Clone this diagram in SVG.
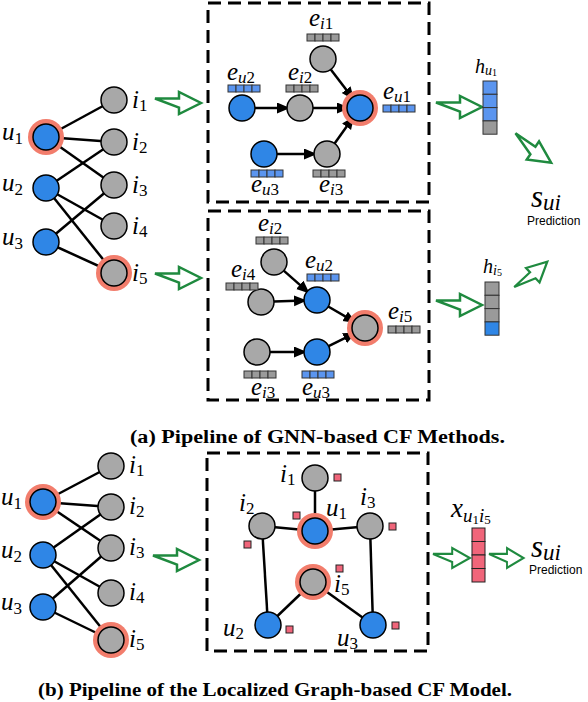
<svg xmlns="http://www.w3.org/2000/svg" width="588" height="702" viewBox="0 0 588 702">
<style>
.bg{fill:#fff}
.e{stroke:#000;stroke-width:2.5;fill:none}
.ea{stroke:#000;stroke-width:2.5;fill:none;marker-end:url(#ah)}
.halo{fill:#f27d6c}
.u{fill:#2f86e6;stroke:#000;stroke-width:1.5}
.i{fill:#a8a8a8;stroke:#000;stroke-width:1.5}
.cb{fill:#5b95ef;stroke:#333;stroke-width:1}
.cg{fill:#9a9a9a;stroke:#333;stroke-width:1}
.cp{fill:#f0657a;stroke:#222;stroke-width:1}
.box{fill:none;stroke:#000;stroke-width:3;stroke-dasharray:13 7}
.ga{fill:#fff;stroke:#1f8a3f;stroke-width:2.5;stroke-linejoin:miter}
.m{font-family:"Liberation Serif",serif;font-style:italic;font-size:25px;fill:#000}
.sb{font-size:17px}
.d{font-style:normal}
.p{font-family:"Liberation Sans",Arial,sans-serif;font-size:12px;fill:#000}
.cap{font-family:"Liberation Serif",serif;font-weight:bold;font-size:18px;fill:#000}
</style>
<defs>
<marker id="ah" markerUnits="userSpaceOnUse" markerWidth="14" markerHeight="12" refX="10" refY="5.5" orient="auto">
<path d="M0,0 L13,5.5 L0,11 Z" fill="#000"/>
</marker>
<path id="garrow" d="M0,-4.5 H24 V-11 L46,0 L24,11 V4.5 Z"/>
</defs>
<rect class="bg" x="0" y="0" width="588" height="702"/>

<g id="connectors">
<line class="e" x1="46" y1="137" x2="114" y2="100"/>
<line class="e" x1="46" y1="137" x2="114" y2="142"/>
<line class="e" x1="46" y1="137" x2="114" y2="185"/>
<line class="e" x1="46" y1="188" x2="114" y2="142"/>
<line class="e" x1="46" y1="188" x2="114" y2="226"/>
<line class="e" x1="46" y1="188" x2="114" y2="273"/>
<line class="e" x1="46" y1="242" x2="114" y2="185"/>
<line class="e" x1="46" y1="242" x2="114" y2="273"/>
<line class="ea" x1="255" y1="108" x2="287" y2="108"/>
<line class="ea" x1="313" y1="108" x2="347" y2="108"/>
<line class="ea" x1="330.8" y1="69.4" x2="352.2" y2="97.6"/>
<line class="ea" x1="277" y1="154" x2="314" y2="154"/>
<line class="ea" x1="334.6" y1="143.4" x2="352.4" y2="118.6"/>
<line class="ea" x1="283.7" y1="270.6" x2="307.3" y2="291.4"/>
<line class="ea" x1="274" y1="301.5" x2="304" y2="300.5"/>
<line class="ea" x1="328.2" y1="306.5" x2="353.8" y2="321.4"/>
<line class="ea" x1="270" y1="352" x2="304" y2="352"/>
<line class="ea" x1="328.6" y1="346.2" x2="353.4" y2="333.8"/>
<line class="e" x1="43" y1="502" x2="111" y2="466"/>
<line class="e" x1="43" y1="502" x2="111" y2="507"/>
<line class="e" x1="43" y1="502" x2="111" y2="548"/>
<line class="e" x1="43" y1="555" x2="111" y2="507"/>
<line class="e" x1="43" y1="555" x2="111" y2="593"/>
<line class="e" x1="43" y1="555" x2="111" y2="640"/>
<line class="e" x1="43" y1="607" x2="111" y2="548"/>
<line class="e" x1="43" y1="607" x2="111" y2="640"/>
<line class="e" x1="315" y1="478" x2="315" y2="531"/>
<line class="e" x1="262" y1="526" x2="315" y2="531"/>
<line class="e" x1="315" y1="531" x2="370" y2="526"/>
<line class="e" x1="262" y1="526" x2="268" y2="625"/>
<line class="e" x1="370" y1="526" x2="373" y2="625"/>
<line class="e" x1="313" y1="582" x2="268" y2="625"/>
<line class="e" x1="313" y1="582" x2="373" y2="625"/>
<use href="#garrow" class="ga" transform="translate(155,103)"/>
<use href="#garrow" class="ga" transform="translate(155,278)"/>
<use href="#garrow" class="ga" transform="translate(436,107)"/>
<use href="#garrow" class="ga" transform="translate(436,305)"/>
<use href="#garrow" class="ga" transform="translate(513,137) rotate(34)"/>
<use href="#garrow" class="ga" transform="translate(517,290) rotate(-43) scale(0.9)"/>
<use href="#garrow" class="ga" transform="translate(153,560)"/>
<use href="#garrow" class="ga" transform="translate(433,558) scale(0.8,0.9)"/>
<use href="#garrow" class="ga" transform="translate(489,558) scale(0.75,0.9)"/>
</g>

<rect class="box" x="208" y="3" width="221" height="199"/>
<rect class="box" x="208" y="211" width="221" height="189"/>
<rect class="box" x="207" y="453" width="221" height="198"/>

<g id="tl-u1"><circle class="halo" cx="46" cy="137" r="18"/><circle class="u" cx="46" cy="137" r="13"/><text class="m" x="2" y="140">u<tspan class="sb d" dy="4">1</tspan></text></g>
<g id="tl-u2"><circle class="u" cx="46" cy="188" r="13"/><text class="m" x="2" y="191">u<tspan class="sb d" dy="4">2</tspan></text></g>
<g id="tl-u3"><circle class="u" cx="46" cy="242" r="13"/><text class="m" x="2" y="245">u<tspan class="sb d" dy="4">3</tspan></text></g>
<g id="tl-i1"><circle class="i" cx="114" cy="100" r="13"/><text class="m" x="132" y="108">i<tspan class="sb d" dy="3">1</tspan></text></g>
<g id="tl-i2"><circle class="i" cx="114" cy="142" r="13"/><text class="m" x="132" y="150">i<tspan class="sb d" dy="3">2</tspan></text></g>
<g id="tl-i3"><circle class="i" cx="114" cy="185" r="13"/><text class="m" x="132" y="193">i<tspan class="sb d" dy="3">3</tspan></text></g>
<g id="tl-i4"><circle class="i" cx="114" cy="226" r="13"/><text class="m" x="132" y="234">i<tspan class="sb d" dy="3">4</tspan></text></g>
<g id="tl-i5"><circle class="halo" cx="114" cy="273" r="18"/><circle class="i" cx="114" cy="273" r="13"/><text class="m" x="132" y="281">i<tspan class="sb d" dy="3">5</tspan></text></g>

<g id="a-eu2"><circle class="u" cx="242" cy="108" r="13"/>
<rect class="cb" x="228" y="85" width="8" height="7"/><rect class="cb" x="236" y="85" width="8" height="7"/><rect class="cb" x="244" y="85" width="8" height="7"/><rect class="cb" x="252" y="85" width="8" height="7"/>
<text class="m" x="227" y="80">e<tspan class="sb" dy="3">u</tspan><tspan class="sb d">2</tspan></text></g>
<g id="a-ei2"><circle class="i" cx="300" cy="108" r="13"/>
<rect class="cg" x="286" y="85" width="8" height="7"/><rect class="cg" x="294" y="85" width="8" height="7"/><rect class="cg" x="302" y="85" width="8" height="7"/><rect class="cg" x="310" y="85" width="8" height="7"/>
<text class="m" x="288" y="80">e<tspan class="sb" dy="3">i</tspan><tspan class="sb d">2</tspan></text></g>
<g id="a-ei1"><circle class="i" cx="323" cy="59" r="13"/>
<rect class="cg" x="307" y="34" width="8" height="7"/><rect class="cg" x="315" y="34" width="8" height="7"/><rect class="cg" x="323" y="34" width="8" height="7"/><rect class="cg" x="331" y="34" width="8" height="7"/>
<text class="m" x="309" y="26">e<tspan class="sb" dy="3">i</tspan><tspan class="sb d">1</tspan></text></g>
<g id="a-eu1"><circle class="halo" cx="360" cy="108" r="18"/><circle class="u" cx="360" cy="108" r="13"/>
<rect class="cb" x="383" y="105" width="8" height="7"/><rect class="cb" x="391" y="105" width="8" height="7"/><rect class="cb" x="399" y="105" width="8" height="7"/><rect class="cb" x="407" y="105" width="8" height="7"/>
<text class="m" x="383" y="99">e<tspan class="sb" dy="3">u</tspan><tspan class="sb d">1</tspan></text></g>
<g id="a-eu3"><circle class="u" cx="264" cy="154" r="13"/>
<rect class="cb" x="251" y="170" width="8" height="7"/><rect class="cb" x="259" y="170" width="8" height="7"/><rect class="cb" x="267" y="170" width="8" height="7"/><rect class="cb" x="275" y="170" width="8" height="7"/>
<text class="m" x="251" y="192">e<tspan class="sb" dy="3">u</tspan><tspan class="sb d">3</tspan></text></g>
<g id="a-ei3"><circle class="i" cx="327" cy="154" r="13"/>
<rect class="cg" x="313" y="170" width="8" height="7"/><rect class="cg" x="321" y="170" width="8" height="7"/><rect class="cg" x="329" y="170" width="8" height="7"/><rect class="cg" x="337" y="170" width="8" height="7"/>
<text class="m" x="319" y="192">e<tspan class="sb" dy="3">i</tspan><tspan class="sb d">3</tspan></text></g>

<g id="h-u1">
<rect class="cb" x="483" y="81" width="14" height="13.3"/><rect class="cb" x="483" y="94.3" width="14" height="13.3"/><rect class="cb" x="483" y="107.6" width="14" height="13.3"/><rect class="cg" x="483" y="120.9" width="14" height="13.3"/>
<text class="m" x="475" y="73" style="font-size:20px">h<tspan style="font-size:14px" dy="2">u</tspan><tspan class="d" style="font-size:10px" dy="1">1</tspan></text></g>
<g id="h-i5">
<rect class="cg" x="485" y="282" width="14" height="13.3"/><rect class="cg" x="485" y="295.3" width="14" height="13.3"/><rect class="cg" x="485" y="308.6" width="14" height="13.3"/><rect class="cb" x="485" y="321.9" width="14" height="13.3" style="fill:#2f86e6"/>
<text class="m" x="483" y="273" style="font-size:20px">h<tspan style="font-size:14px" dy="2">i</tspan><tspan class="d" style="font-size:10px" dy="1">5</tspan></text></g>
<g id="s-a">
<text class="m" x="531" y="207" style="font-size:31px">s<tspan style="font-size:23px" dy="3">ui</tspan></text>
<text class="p" x="527" y="225">Prediction</text></g>

<g id="b-ei2"><circle class="i" cx="274" cy="262" r="13"/>
<rect class="cg" x="256" y="237" width="8" height="7"/><rect class="cg" x="264" y="237" width="8" height="7"/><rect class="cg" x="272" y="237" width="8" height="7"/><rect class="cg" x="280" y="237" width="8" height="7"/>
<text class="m" x="258" y="231">e<tspan class="sb" dy="3">i</tspan><tspan class="sb d">2</tspan></text></g>
<g id="b-ei4"><circle class="i" cx="261" cy="302" r="13"/>
<rect class="cg" x="226" y="283" width="8" height="7"/><rect class="cg" x="234" y="283" width="8" height="7"/><rect class="cg" x="242" y="283" width="8" height="7"/><rect class="cg" x="250" y="283" width="8" height="7"/>
<text class="m" x="231" y="277">e<tspan class="sb" dy="3">i</tspan><tspan class="sb d">4</tspan></text></g>
<g id="b-eu2"><circle class="u" cx="317" cy="300" r="13"/>
<rect class="cb" x="307" y="274" width="8" height="7"/><rect class="cb" x="315" y="274" width="8" height="7"/><rect class="cb" x="323" y="274" width="8" height="7"/><rect class="cb" x="331" y="274" width="8" height="7"/>
<text class="m" x="305" y="268">e<tspan class="sb" dy="3">u</tspan><tspan class="sb d">2</tspan></text></g>
<g id="b-ei5"><circle class="halo" cx="365" cy="328" r="18"/><circle class="i" cx="365" cy="328" r="13"/>
<rect class="cg" x="388" y="326" width="8" height="7"/><rect class="cg" x="396" y="326" width="8" height="7"/><rect class="cg" x="404" y="326" width="8" height="7"/><rect class="cg" x="412" y="326" width="8" height="7"/>
<text class="m" x="388" y="319">e<tspan class="sb" dy="3">i</tspan><tspan class="sb d">5</tspan></text></g>
<g id="b-ei3"><circle class="i" cx="257" cy="352" r="13"/>
<rect class="cg" x="244" y="371" width="8" height="7"/><rect class="cg" x="252" y="371" width="8" height="7"/><rect class="cg" x="260" y="371" width="8" height="7"/><rect class="cg" x="268" y="371" width="8" height="7"/>
<text class="m" x="251" y="395">e<tspan class="sb" dy="3">i</tspan><tspan class="sb d">3</tspan></text></g>
<g id="b-eu3"><circle class="u" cx="317" cy="352" r="13"/>
<rect class="cb" x="302" y="371" width="8" height="7"/><rect class="cb" x="310" y="371" width="8" height="7"/><rect class="cb" x="318" y="371" width="8" height="7"/><rect class="cb" x="326" y="371" width="8" height="7"/>
<text class="m" x="302" y="395">e<tspan class="sb" dy="3">u</tspan><tspan class="sb d">3</tspan></text></g>

<text id="cap-a" class="cap" x="130" y="443" textLength="375" lengthAdjust="spacingAndGlyphs">(a) Pipeline of GNN-based CF Methods.</text>

<g id="bl-u1"><circle class="halo" cx="43" cy="502" r="18"/><circle class="u" cx="43" cy="502" r="13"/><text class="m" x="1" y="505">u<tspan class="sb d" dy="4">1</tspan></text></g>
<g id="bl-u2"><circle class="u" cx="43" cy="555" r="13"/><text class="m" x="1" y="558">u<tspan class="sb d" dy="4">2</tspan></text></g>
<g id="bl-u3"><circle class="u" cx="43" cy="607" r="13"/><text class="m" x="1" y="610">u<tspan class="sb d" dy="4">3</tspan></text></g>
<g id="bl-i1"><circle class="i" cx="111" cy="466" r="13"/><text class="m" x="129" y="473">i<tspan class="sb d" dy="3">1</tspan></text></g>
<g id="bl-i2"><circle class="i" cx="111" cy="507" r="13"/><text class="m" x="129" y="514">i<tspan class="sb d" dy="3">2</tspan></text></g>
<g id="bl-i3"><circle class="i" cx="111" cy="548" r="13"/><text class="m" x="129" y="555">i<tspan class="sb d" dy="3">3</tspan></text></g>
<g id="bl-i4"><circle class="i" cx="111" cy="593" r="13"/><text class="m" x="129" y="600">i<tspan class="sb d" dy="3">4</tspan></text></g>
<g id="bl-i5"><circle class="halo" cx="111" cy="640" r="18"/><circle class="i" cx="111" cy="640" r="13"/><text class="m" x="129" y="647">i<tspan class="sb d" dy="3">5</tspan></text></g>

<g id="c-i1"><circle class="i" cx="315" cy="478" r="13"/><rect class="cp" x="334" y="474" width="7" height="7"/><text class="m" x="280" y="482">i<tspan class="sb d" dy="3">1</tspan></text></g>
<g id="c-u1"><circle class="halo" cx="315" cy="531" r="18"/><circle class="u" cx="315" cy="531" r="13"/><rect class="cp" x="293" y="512" width="7" height="7"/><text class="m" x="326" y="516">u<tspan class="sb d" dy="3">1</tspan></text></g>
<g id="c-i2"><circle class="i" cx="262" cy="526" r="13"/><rect class="cp" x="244" y="541" width="7" height="7"/><text class="m" x="239" y="511">i<tspan class="sb d" dy="3">2</tspan></text></g>
<g id="c-i3"><circle class="i" cx="370" cy="526" r="13"/><rect class="cp" x="389" y="523" width="7" height="7"/><text class="m" x="360" y="505">i<tspan class="sb d" dy="3">3</tspan></text></g>
<g id="c-i5"><circle class="halo" cx="313" cy="582" r="18"/><circle class="i" cx="313" cy="582" r="13"/><rect class="cp" x="336" y="565" width="7" height="7"/><text class="m" x="334" y="592">i<tspan class="sb d" dy="3">5</tspan></text></g>
<g id="c-u2"><circle class="u" cx="268" cy="625" r="13"/><rect class="cp" x="286" y="626" width="7" height="7"/><text class="m" x="223" y="636">u<tspan class="sb d" dy="3">2</tspan></text></g>
<g id="c-u3"><circle class="u" cx="373" cy="625" r="13"/><rect class="cp" x="392" y="622" width="7" height="7"/><text class="m" x="337" y="646">u<tspan class="sb d" dy="3">3</tspan></text></g>

<g id="x-bar">
<rect class="cp" x="472" y="528" width="13" height="13.5"/><rect class="cp" x="472" y="541.5" width="13" height="13.5"/><rect class="cp" x="472" y="555" width="13" height="13.5"/><rect class="cp" x="472" y="568.5" width="13" height="13.5"/>
<text class="m" x="451" y="517" style="font-size:27px">x<tspan style="font-size:19px" dy="5">u</tspan><tspan class="d" style="font-size:13px" dy="2">1</tspan><tspan style="font-size:19px" dy="-2">i</tspan><tspan class="d" style="font-size:13px" dy="2">5</tspan></text></g>
<g id="s-b">
<text class="m" x="531" y="557" style="font-size:31px">s<tspan style="font-size:23px" dy="3">ui</tspan></text>
<text class="p" x="529" y="574">Prediction</text></g>

<text id="cap-b" class="cap" x="38" y="696" textLength="474" lengthAdjust="spacingAndGlyphs">(b) Pipeline of the Localized Graph-based CF Model.</text>
</svg>
